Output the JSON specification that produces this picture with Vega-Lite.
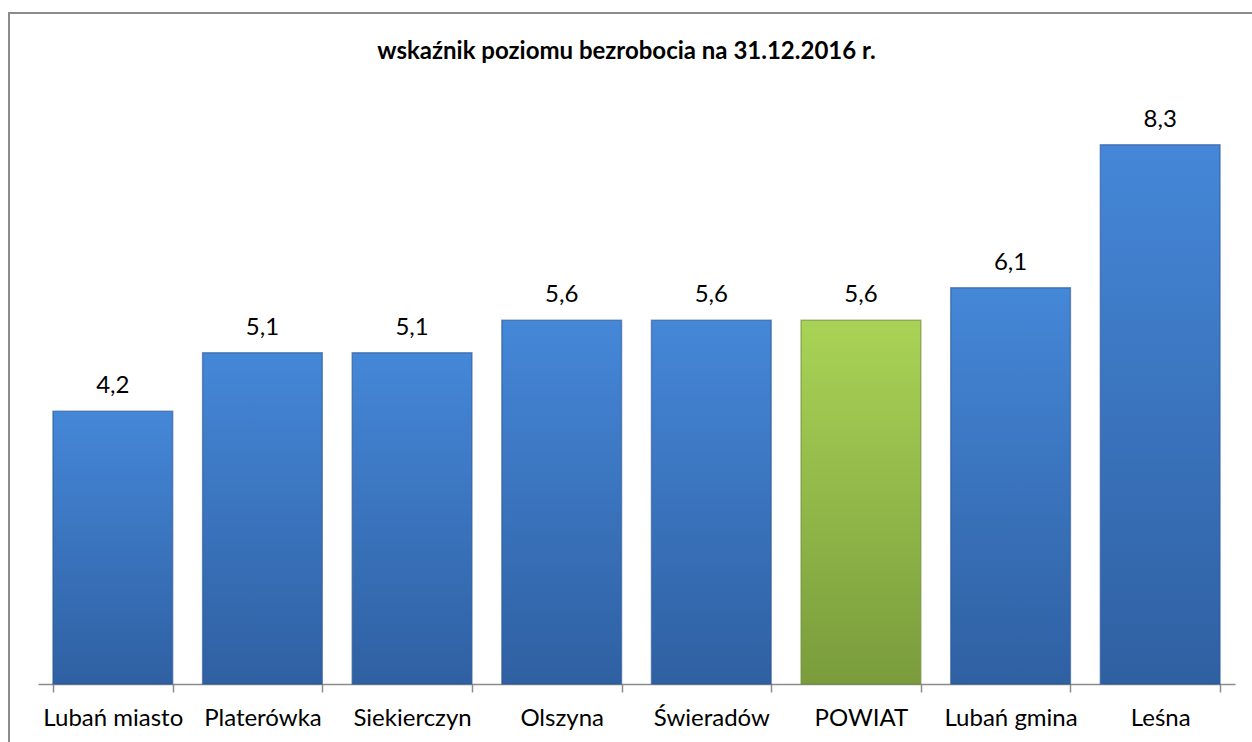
{
  "$schema": "https://vega.github.io/schema/vega-lite/v6.json",
  "autosize": "none",
  "width": 1253,
  "height": 739,
  "padding": {"left": 9, "top": 13, "right": 0, "bottom": 0},
  "background": "white",
  "config": {
    "view": {"stroke": "#8c8c8c", "strokeWidth": 2},
    "locale": {"number": {"decimal": ",", "thousands": " ", "grouping": [3], "currency": ["", " zł"]}},
    "font": "Lato"
  },
  "title": {
    "text": "wskaźnik poziomu bezrobocia na 31.12.2016 r.",
    "fontSize": 24,
    "fontWeight": "bold",
    "font": "Lato",
    "color": "#000000",
    "anchor": "middle",
    "dx": -9,
    "offset": -51
  },
  "data": {
    "values": [
      {"gmina": "Lubań miasto", "wskaznik": 4.2},
      {"gmina": "Platerówka", "wskaznik": 5.1},
      {"gmina": "Siekierczyn", "wskaznik": 5.1},
      {"gmina": "Olszyna", "wskaznik": 5.6},
      {"gmina": "Świeradów", "wskaznik": 5.6},
      {"gmina": "POWIAT", "wskaznik": 5.6},
      {"gmina": "Lubań gmina", "wskaznik": 6.1},
      {"gmina": "Leśna", "wskaznik": 8.3}
    ]
  },
  "encoding": {
    "x": {
      "field": "gmina",
      "type": "nominal",
      "sort": null,
      "scale": {"range": [29, 1226], "paddingInner": 0.2, "paddingOuter": 0.1},
      "axis": {
        "title": null,
        "labelAngle": 0,
        "labelFontSize": 24,
        "labelFont": "Lato",
        "labelColor": "#000000",
        "labelBaseline": "alphabetic",
        "labelPadding": 33,
        "tickBand": "extent",
        "tickSize": 8,
        "tickColor": "#8c8c8c",
        "tickWidth": 1.5,
        "domainColor": "#8c8c8c",
        "domainWidth": 1.5,
        "offset": -68,
        "grid": false
      }
    },
    "y": {
      "field": "wskaznik",
      "type": "quantitative",
      "scale": {"domain": [0, 10.33], "range": [671, 0], "nice": false, "zero": true},
      "axis": null
    }
  },
  "layer": [
    {
      "mark": {"type": "bar", "strokeWidth": 1.5, "strokeOpacity": 0.6},
      "encoding": {
        "color": {
          "condition": {
            "test": "datum.gmina === 'POWIAT'",
            "value": {"gradient": "linear", "x1": 0, "y1": 0, "x2": 0, "y2": 1,
              "stops": [{"offset": 0, "color": "#a9d356"}, {"offset": 1, "color": "#7a9c3c"}]}
          },
          "value": {"gradient": "linear", "x1": 0, "y1": 0, "x2": 0, "y2": 1,
            "stops": [{"offset": 0, "color": "#4587d8"}, {"offset": 1, "color": "#2f60a2"}]}
        },
        "stroke": {
          "condition": {"test": "datum.gmina === 'POWIAT'", "value": "#6a8a32"},
          "value": "#2b5696"
        }
      }
    },
    {
      "mark": {"type": "text", "baseline": "alphabetic", "dy": -18, "fontSize": 24, "font": "Lato", "color": "#000000"},
      "encoding": {
        "text": {"field": "wskaznik", "type": "quantitative", "format": ".1f"}
      }
    }
  ]
}
